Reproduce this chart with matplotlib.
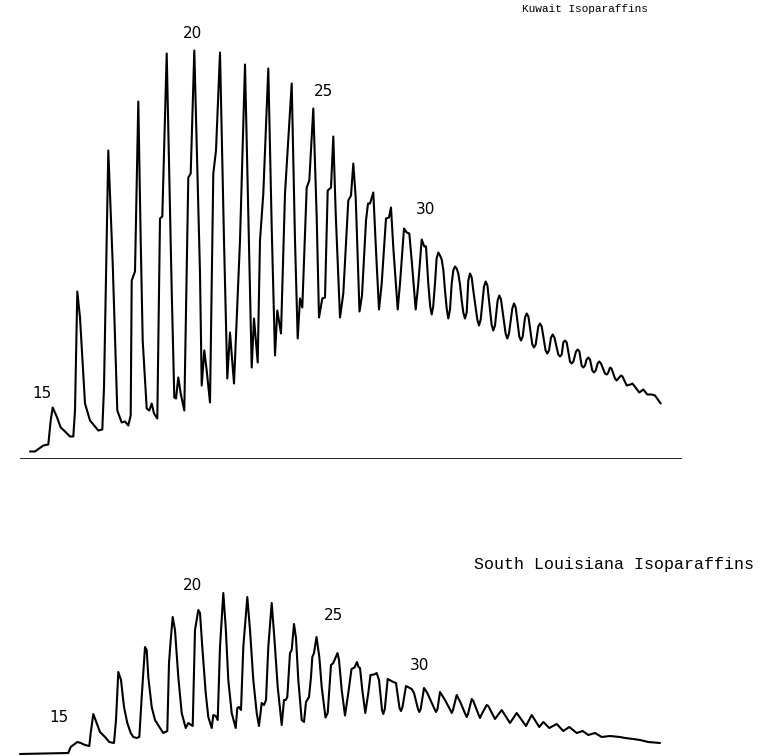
import matplotlib
matplotlib.use("Agg")
import matplotlib.pyplot as plt

# Gas chromatograms of isoparaffin fractions: retention (chart units) vs detector response.

kuwait_retention = [
    30, 35, 43.3, 48.3, 50.7, 52.7, 56.7, 60.7, 64, 70, 73.3, 75, 77.3, 80, 85, 90,
    98.3, 102.3, 104, 108.3, 112.7, 117.3, 121.7, 125, 128.3, 130.7, 131.7, 135,
    138.3, 140.7, 142.7, 146.7, 149.3, 151.7, 154, 157.3, 160, 162.3, 166.7, 171.7,
    174.3, 176, 178.3, 180.7, 184.3, 188.3, 190.7, 194.3, 200, 201.7, 204.3, 206.7,
    210, 213.3, 216, 220, 224, 227.3, 230, 234, 240, 245, 251.7, 254, 257.7, 260,
    263.3, 268.3, 271.7, 275, 277.3, 281, 285, 291.7, 295, 297.7, 300, 302.3, 306.7,
    309.3, 313.3, 316.7, 319, 322.3, 325, 327.7, 331, 333.3, 335.7, 340, 343.3,
    348.3, 351, 353.3, 355.7, 359.5, 362, 366, 368, 370, 373.3, 376, 379, 381.7,
    386, 389, 391, 393.3, 397.7, 400, 404, 406.7, 409.3, 411.7, 415.7, 418.3, 421.7,
    424.3, 426, 428.3,
    430.2, 431.7, 433.2, 435, 436.6, 438.3, 440, 441.7, 443.4, 445,
    446.7, 448.3, 450, 451.7, 453.3, 455, 456.7, 458.3, 460, 461.7,
    463.3, 465, 466.7, 468.3, 470, 471.7, 473.3,
    477.3, 479, 480.7, 484, 485.7, 487.4,
    491.6, 493.3, 495, 497.6, 499.3, 501,
    505.6, 507.3, 509, 512.3, 514, 515.7,
    519.3, 521, 522.7, 525, 526.7, 528.4,
    532.3, 534, 535.7, 538.3, 540, 541.7,
    545.6, 547.3, 549, 551, 552.7, 554.4,
    558.3, 560, 561.7, 563.3, 565, 566.7,
    570, 571.7, 573.4, 576, 577.7, 579.4,
    581.6, 583.3, 585, 586.6, 588.3, 590,
    592.3, 594, 595.7, 597.6, 599.3, 601,
    605, 606.7, 608.3, 610, 611.5,
    615, 616.7, 618.3, 621, 622.5,
    626.7, 630.5, 632.3, 634,
    639.3, 643.3, 647.3, 651.7, 655, 660.7,
]
kuwait_response = [
    7, 7, 13, 14, 38, 51, 42, 31, 28, 22, 22, 48, 167, 141, 55, 38,
    28, 29, 71, 308, 195, 48, 36, 37, 33, 43, 178, 187,
    357, 218, 118, 50, 48, 55, 45, 40, 240, 242, 405, 168,
    61, 60, 81, 65, 48, 281, 285, 408, 185, 73, 108, 88,
    56, 285, 308, 406, 218, 80, 126, 75, 218, 394, 91, 140, 96, 218,
    265, 390, 231, 103, 148, 125, 265, 375, 218, 120, 160, 151, 271,
    278, 350, 241, 141, 160, 161, 268, 271, 322, 245, 141, 165,
    258, 263, 295, 261, 147, 163, 238, 255, 255, 266, 208, 149, 175,
    240, 241, 251, 211, 149, 175, 230, 226, 225, 198, 149, 175, 219,
    212, 212, 175,
    152, 144, 152, 175, 200, 206, 203, 199, 188, 168,
    150, 140, 149, 175, 188, 192, 190, 185, 174, 158,
    146, 140, 146, 178, 185, 181, 168,
    139, 133, 139, 172, 177, 173,
    134, 128, 133, 158, 163, 159,
    125, 120, 125, 150, 155, 151,
    122, 118, 122, 141, 145, 142,
    114, 111, 114, 132, 135, 132,
    108, 105, 108, 121, 124, 121,
    104, 102, 104, 116, 118, 116,
    97, 95, 97, 107, 109, 107,
    93, 91, 93, 99, 101, 99,
    88, 86, 88, 95, 97, 95,
    85, 84, 86, 91, 90,
    80, 78, 80, 83, 82,
    73, 74, 75, 73,
    66, 69, 64, 64, 63, 55,
]

louisiana_retention = [
    20, 68.3, 70.7, 73.3, 77.3, 80.7, 85, 89.3, 90.7, 93.3, 96.7, 100, 105, 109.3,
    114, 116, 118.3, 121, 124, 127.3, 130.7, 133.3, 136.7, 139.3, 141.7, 145, 146.7,
    148.3, 151.7, 155, 160, 163.3, 167.3, 169, 170.7, 172.7, 175, 178.3, 181.7,
    185.7, 188.3, 192.7, 195, 198.3, 200, 202.3, 205.7, 208.3, 211.7, 213.3, 215.7,
    217.7, 220, 223.3, 225.7, 228.3, 231.7, 235.7, 237.3, 239, 241, 243.3, 247.3,
    250, 253.3, 256.7, 259, 261.7, 264, 266, 268.3, 271.7, 274.3, 277.7, 281.7, 284,
    285.7, 287.3, 290, 291.7, 294, 296, 298.3, 301.7, 304, 306, 309, 311, 312.3, 314,
    316.5, 319.3, 321.7, 325.5, 327.7, 331, 333.3, 337.5, 339, 341.7, 345, 348.3,
    351.5, 354.5, 357, 358.5, 360, 362.3, 365.3, 368.3, 370.5, 374, 376.7, 379,
    382, 383.3, 384.8, 387.7, 393.3, 396, 399.5, 401, 402.5, 406, 411.7, 414,
    418, 419.3, 420.7, 424, 427.3, 434.5, 436, 437.5, 440, 445,
    450.3, 451.7, 453, 456.7, 460.7, 465.3, 466.7, 468, 471.7, 473.3, 478.7, 480,
    481.3, 486.7, 488.3, 495, 501.7, 510, 516.7, 526,
    531.7, 539.3, 543.3, 549.3, 556.7, 563.3, 569.3, 576.7, 582.7, 588.3, 595, 601.7,
    610, 620, 625, 633.3, 640, 648.3, 660,
]
louisiana_response = [
    2, 3, 9, 11, 14, 13, 11, 10, 23, 42, 33, 24, 19, 14,
    13, 36, 84, 76, 49, 33, 23, 19, 18, 19, 59, 109, 106,
    79, 49, 36, 28, 23, 25, 93, 116, 139, 126, 79, 43,
    28, 33, 30, 126, 146, 143, 109, 63, 39, 28, 41, 40,
    36, 109, 163, 129, 76, 43, 28, 48, 49, 46, 109, 159,
    126, 76, 43, 30, 53, 51, 56, 109, 153, 119, 69, 31, 56,
    56, 59, 103, 106, 132, 118, 76, 36, 34, 54, 59, 79, 99, 103,
    119, 99, 69, 38.5, 43, 91, 93, 103, 96, 66, 40.5, 63,
    87, 88.5, 94, 89, 88, 66, 43, 63, 81, 81.5, 83, 76,
    46, 42, 47, 77, 74, 73, 48, 45, 49, 70, 67, 63,
    47, 44, 47, 68, 63, 47, 44, 47, 64, 56,
    46, 43, 46, 61, 53, 42, 39, 42, 57, 55, 41, 38,
    41, 51, 50, 37, 46, 33, 43, 30,
    41, 29, 34, 28, 32, 25, 29, 23, 25, 21, 23, 19,
    20, 19, 18, 17, 16, 14, 13,
]

kuwait_title = "Kuwait Isoparaffins"
louisiana_title = "South Louisiana Isoparaffins"
carbon_labels = ["15", "20", "25", "30"]

W, H = 765, 756
fig = plt.figure(figsize=(W / 100, H / 100), dpi=100)
fig.patch.set_facecolor("white")

top_base = 458.5  # figure row of the upper baseline
ax_top = fig.add_axes([0, 1 - top_base / H, 1, top_base / H])
ax_bot = fig.add_axes([0, 0, 1, 1 - top_base / H])
ax_top.set_xlim(0, W)
ax_top.set_ylim(0, top_base)
ax_bot.set_xlim(0, W)
ax_bot.set_ylim(0, H - top_base)
for ax in (ax_top, ax_bot):
    ax.set_axis_off()

trace_kw = dict(color="black", lw=1.5, solid_joinstyle="round", solid_capstyle="round")
ax_top.plot(kuwait_retention, kuwait_response, **trace_kw)
ax_bot.plot(louisiana_retention, louisiana_response, **trace_kw)

# recorder baseline under the upper trace
ax_top.hlines(0, kuwait_retention[0] - 10, kuwait_retention[-1] + 21,
              color="black", lw=1.2)

label_font = dict(family=["DejaVu Sans"], fontsize=11, ha="center", va="center")
for txt, (x, y) in zip(carbon_labels, [(42, 65.5), (193, 425.5), (323.3, 367), (426, 249)]):
    ax_top.text(x, y, txt, **label_font)
for txt, (x, y) in zip(carbon_labels, [(59, 38), (192.7, 171), (333.3, 140), (420, 90)]):
    ax_bot.text(x, y, txt, **label_font)

ax_top.text(585, 450, kuwait_title, family=["Liberation Mono"], fontsize=8,
            ha="center", va="center")
ax_bot.text(614, 191, louisiana_title, family=["Liberation Mono"], fontsize=12,
            ha="center", va="center")

fig.savefig("out.png", dpi=100, facecolor="white")
